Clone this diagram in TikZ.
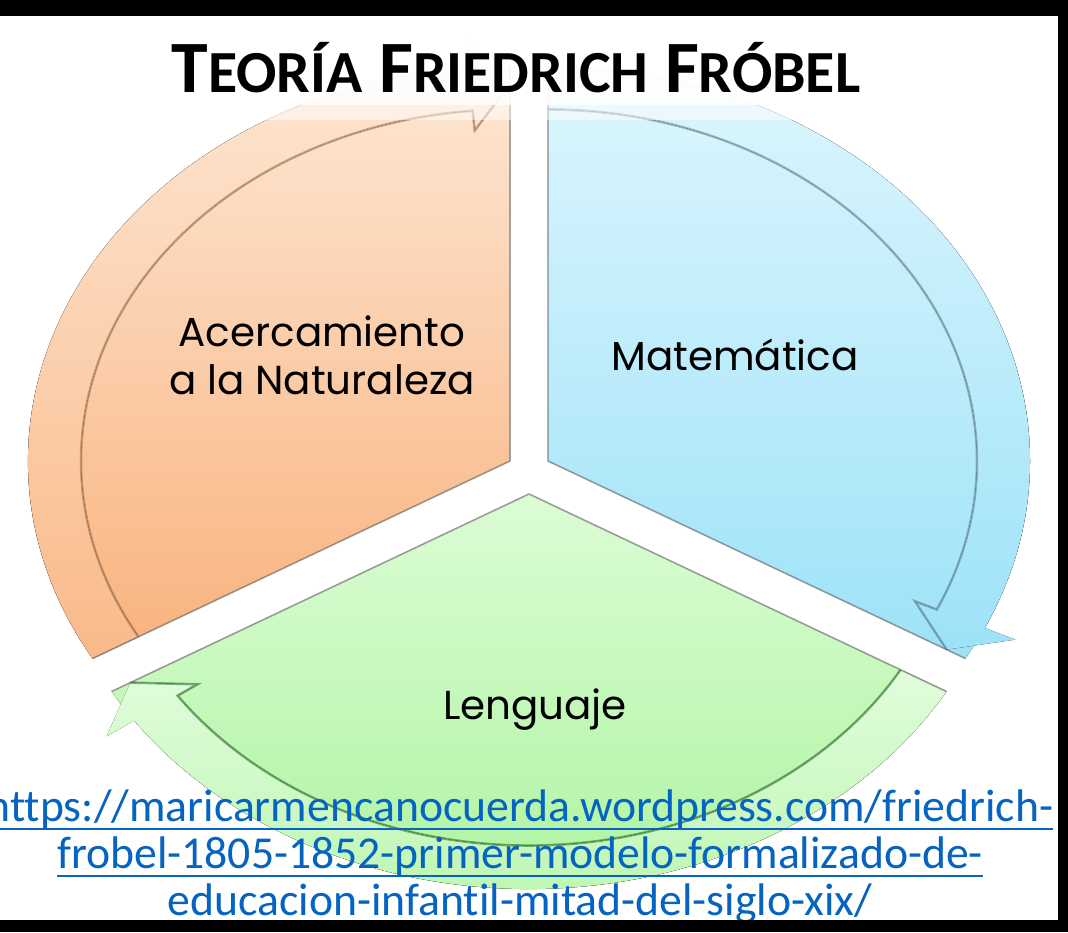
\documentclass[tikz,border=0pt]{standalone}
\usepackage{fontspec}
\setmainfont{Carlito}
\newfontfamily\labelfont{Poppins}
\newfontfamily\linkfont{Carlito}[Ligatures={NoCommon,NoRare}]
\usetikzlibrary{positioning}

\definecolor{orangetop}{HTML}{FDE7D4}
\definecolor{orangebot}{HTML}{F9B27D}
\definecolor{bluetop}{HTML}{DDF6FD}
\definecolor{bluebot}{HTML}{9DE2F8}
\definecolor{greentop}{HTML}{DCFCD5}
\definecolor{greenbot}{HTML}{A8F39A}
\definecolor{linkblue}{HTML}{0563C1}

% one segment of the cycle: shift, start angle, end angle, colours, edge colour
\newcommand{\cycleseg}[8]{%
  \begin{scope}[shift={#1}, xscale=4.82, yscale=3.95]
    \fill[top color=#4, bottom color=#5] (0,0) -- (#2:1) arc[start angle=#2, end angle=#3, radius=1] -- cycle;
    \fill[top color=#6, bottom color=#7] (#2:0.89) arc[start angle=#2, end angle=#3+5, radius=0.89]
      -- (#3+5:0.84) -- (#3:0.955) -- (#3+5:1.07) -- (#3+5:1) arc[start angle=#3+5, end angle=#2, radius=1] -- cycle;
    \draw[#8, line width=0.7pt, opacity=0.45] (#2:0.89) arc[start angle=#2, end angle=#3+5, radius=0.89]
      -- (#3+5:0.84) -- (#3:0.955);
    \draw[black!60, line width=0.5pt, opacity=0.5] (#2:1) -- (0,0) -- (#3:1);
  \end{scope}}

\newcommand{\scword}[2]{#1{\fontsize{17pt}{17pt}\selectfont #2}}
\newcommand{\ulink}[1]{\setbox0\hbox{#1}\rlap{\rule[-2.6pt]{\wd0}{0.6pt}}\box0}

\begin{document}
\begin{tikzpicture}[
        seglabel/.style={font=\labelfont\fontsize{11.5pt}{13.7pt}\selectfont, align=center, text=black},
        urltext/.style={font=\linkfont\fontsize{13pt}{13.4pt}\selectfont, align=center, text=linkblue, inner sep=0pt},
        frame/.style={fill=black}
    ]
    \useasboundingbox (0,0) rectangle (10.68,9.32);
    \fill[white] (0,0) rectangle (10.68,9.32);

    % segments of the cycle
    \cycleseg{(5.10,4.71)}{210}{90}{orangetop}{orangebot}{orangetop}{orangebot!90}{brown!70!black}
    \cycleseg{(5.48,4.71)}{90}{-30}{bluetop}{bluebot}{bluetop}{bluebot}{cyan!40!black}
    \cycleseg{(5.29,4.38)}{330}{210}{greentop}{greenbot}{greentop!85!white}{greenbot!75!white}{green!30!black}

    % title with its white glow
    \fill[white, opacity=0.5, rounded corners=0.4cm] (1.3,8.12) rectangle (9.0,9.2);
    \fill[white, opacity=0.85, rounded corners=0.3cm] (1.5,8.27) rectangle (8.8,9.16);
    \node[font=\bfseries\fontsize{21pt}{21pt}\selectfont] (title) at (5.16,8.64)
        {\scword{T}{EORÍA} \scword{F}{RIEDRICH} \scword{F}{RÓBEL}};

    \node[seglabel] (naturaleza) at (3.22,5.77) {Acercamiento\\a la Naturaleza};
    \node[seglabel] (matematica) at (7.35,5.77) {Matemática};
    \node[seglabel] (lenguaje) at (5.35,2.22) {Lenguaje};

    \node[urltext] (url) at (5.20,0.75) {%
        \ulink{https://maricarmencanocuerda.wordpress.com/friedrich-}\\
        \ulink{frobel-1805-1852-primer-modelo-formalizado-de-}\\
        \ulink{educacion-infantil-mitad-del-siglo-xix/}};

    % black frame
    \fill[frame] (0,9.16) rectangle (10.68,9.32);
    \fill[frame] (10.58,0) rectangle (10.68,9.32);
    \fill[frame] (0,0) rectangle (10.68,0.12);
\end{tikzpicture}
\end{document}
